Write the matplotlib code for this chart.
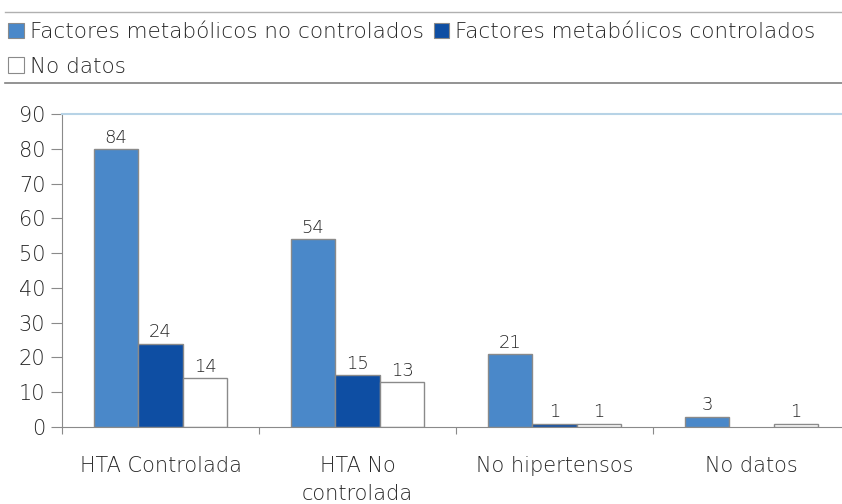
import matplotlib
matplotlib.use('Agg')
import matplotlib.pyplot as plt
from matplotlib.lines import Line2D
import numpy as np

plt.rcParams['font.family'] = ['DejaVu Sans']
plt.rcParams['font.weight'] = 'light'

categories = ['HTA Controlada', 'HTA No\ncontrolada', 'No hipertensos', 'No datos']
series_names = ['Factores metabólicos no controlados',
                'Factores metabólicos controlados',
                'No datos']
# bar heights as drawn in the picture (first bar is drawn at 80, labelled 84)
no_controlados = [80, 54, 21, 3]
controlados = [24, 15, 1, 0]
no_datos = [14, 13, 1, 1]
# labels as printed above the bars
labels_no_controlados = ['84', '54', '21', '3']
labels_controlados = ['24', '15', '1', '']
labels_no_datos = ['14', '13', '1', '1']

colors = ['#4a88c9', '#0e4ea3', '#ffffff']
edge = '#8a8a8a'
text_c = '#262626'

fig = plt.figure(figsize=(8.42, 5.04), dpi=100)
ax = fig.add_axes([62 / 842, 77 / 504, 788 / 842, 313 / 504])

x = np.arange(len(categories))
w = 0.226
series = [no_controlados, controlados, no_datos]
labels = [labels_no_controlados, labels_controlados, labels_no_datos]
for i, (vals, labs) in enumerate(zip(series, labels)):
    pos = x + (i - 1) * w
    for p, v, lab in zip(pos, vals, labs):
        if v == 0:
            continue
        ax.bar(p, v, w, color=colors[i], edgecolor=edge, linewidth=1.0)
        ax.text(p, v + 0.6, lab, ha='center', va='bottom', fontsize=13, color=text_c)

ax.set_xlim(-0.5, 3.5)
ax.set_ylim(0, 90)
ax.set_yticks(range(0, 91, 10))
ax.set_xticks(np.arange(-0.5, 3.6, 1))
ax.set_xticklabels([])
ax.tick_params(axis='x', length=5, color=edge, direction='out')
ax.tick_params(axis='y', length=8, color=edge, direction='out', labelsize=15,
               labelcolor=text_c, pad=4)
for i, c in enumerate(categories):
    ax.text(i, -8.2, c, ha='center', va='top', fontsize=15, color=text_c,
            linespacing=1.5)

ax.spines['right'].set_visible(False)
ax.spines['top'].set_color('#b7d3e6')
ax.spines['top'].set_linewidth(1.5)
ax.spines['left'].set_color(edge)
ax.spines['bottom'].set_color(edge)

# horizontal rules around the legend
fig.add_artist(Line2D([5 / 842, 1], [1 - 12 / 504] * 2, color='#b0b0b0', lw=1.0))
fig.add_artist(Line2D([5 / 842, 1], [1 - 83 / 504] * 2, color='#808080', lw=1.2))

handles = [plt.Rectangle((0, 0), 1, 1, facecolor=c, edgecolor=edge, linewidth=0.8)
           for c in colors]
# ncol=2 fills by column, so order a, c, b gives rows (a, b) and (c)
order = [0, 2, 1]
fig.legend([handles[k] for k in order], [series_names[k] for k in order],
           loc='upper left', ncol=2,
           bbox_to_anchor=(8 / 842, 1 - 22 / 504), frameon=False,
           fontsize=15.5, handlelength=0.72, handleheight=0.72,
           handletextpad=0.3, columnspacing=0.45, labelspacing=0.68,
           borderpad=0, borderaxespad=0, labelcolor=text_c)

fig.savefig('out.png', dpi=100)
